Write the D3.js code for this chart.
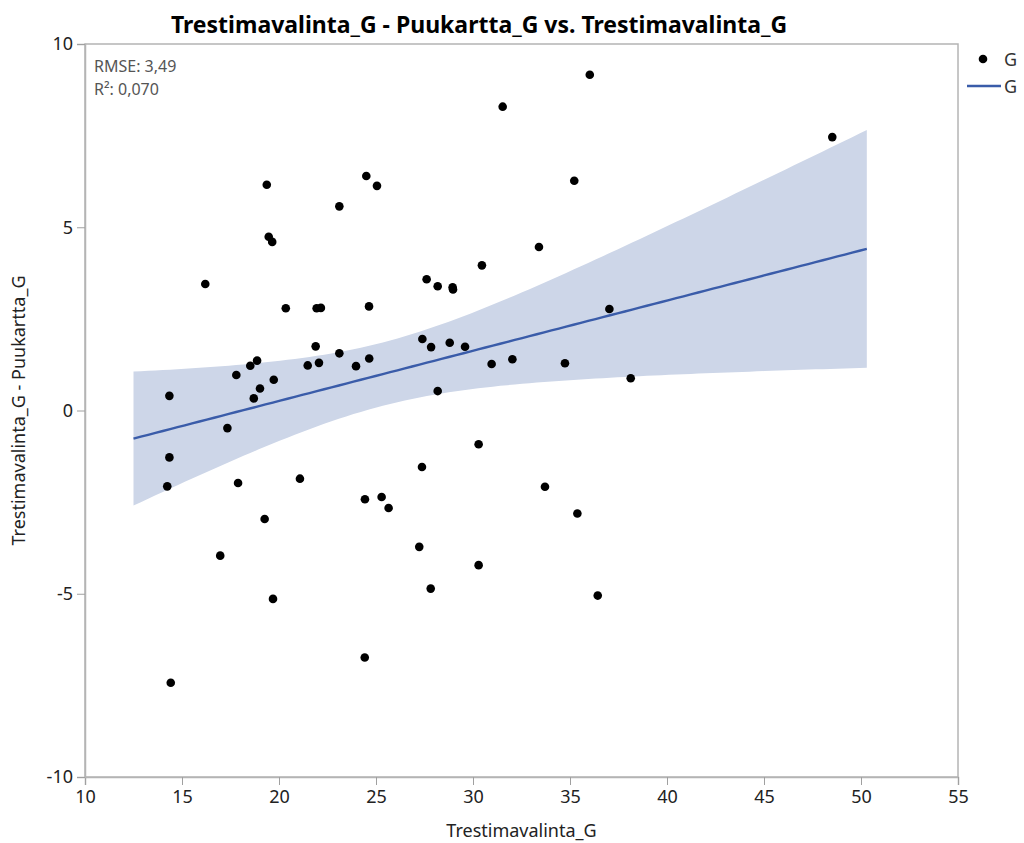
<!DOCTYPE html>
<html>
<head>
<meta charset="utf-8">
<script src="https://cdn.jsdelivr.net/npm/d3@7"></script>
<style>
  html, body { margin: 0; padding: 0; background: #fff; }
  svg { display: block; font-family: "Noto Sans", "Open Sans", sans-serif; }
</style>
</head>
<body>
<svg id="chart" width="1024" height="843"></svg>
<script>
// ---- data ----
const xValues = [14.42, 14.35, 14.35, 14.24, 16.20, 17.34, 16.97, 17.80, 17.89, 18.52,
  18.70, 18.87, 19.02, 19.26, 19.37, 19.47, 19.65, 19.69, 19.73, 20.35,
  21.08, 21.48, 21.89, 21.94, 22.06, 22.16, 23.11, 23.11, 23.97, 24.42,
  24.43, 24.50, 24.65, 24.64, 25.05, 25.29, 25.65, 27.23, 27.39, 27.37,
  27.61, 27.84, 27.82, 28.18, 28.18, 28.80, 28.95, 28.97, 29.59, 30.29,
  30.29, 30.46, 30.96, 31.53, 32.03, 33.40, 33.71, 34.74, 35.22, 35.38,
  36.02, 36.43, 37.03, 38.13, 48.52];
const yValues = [-7.43, 0.40, -1.28, -2.07, 3.45, -0.48, -3.96, 0.97, -1.98, 1.22,
  0.33, 1.36, 0.60, -2.96, 6.16, 4.74, 4.60, -5.14, 0.84, 2.79,
  -1.86, 1.23, 1.75, 2.79, 1.30, 2.80, 5.57, 1.56, 1.21, -6.74,
  -2.42, 6.40, 1.42, 2.84, 6.13, -2.36, -2.66, -3.72, 1.95, -1.54,
  3.58, 1.73, -4.86, 3.39, 0.53, 1.85, 3.36, 3.30, 1.74, -0.92,
  -4.22, 3.96, 1.27, 8.29, 1.40, 4.46, -2.08, 1.29, 6.27, -2.81,
  9.16, -5.05, 2.77, 0.88, 7.46];
const xTicks = [10, 15, 20, 25, 30, 35, 40, 45, 50, 55];
const yTicks = [-10, -5, 0, 5, 10];
const xDomain = [10, 55];
const yDomain = [-10, 10];
const fitRange = [12.5, 50.3];
const tQuantile = 1.998;
const titleText = "Trestimavalinta_G - Puukartta_G vs. Trestimavalinta_G";
const xLabel = "Trestimavalinta_G";
const yLabel = "Trestimavalinta_G - Puukartta_G";
const statLines = ["RMSE: 3,49", "R²: 0,070"];
const legendLabel = "G";

// ---- layout ----
const M = {left: 85, right: 958, top: 44, bottom: 777};
const svg = d3.select("#chart");
const x = d3.scaleLinear().domain(xDomain).range([M.left, M.right]);
const y = d3.scaleLinear().domain(yDomain).range([M.bottom, M.top]);

// ---- regression (derived from data) ----
const n = xValues.length;
const xbar = d3.mean(xValues), ybar = d3.mean(yValues);
let sxx = 0, sxy = 0;
for (let i = 0; i < n; i++) { sxx += (xValues[i]-xbar)**2; sxy += (xValues[i]-xbar)*(yValues[i]-ybar); }
const slope = sxy / sxx, intercept = ybar - slope * xbar;
let sse = 0;
for (let i = 0; i < n; i++) { sse += (yValues[i] - intercept - slope*xValues[i])**2; }
const s = Math.sqrt(sse / (n - 2));
const bandX = d3.range(0, 101).map(i => fitRange[0] + (fitRange[1]-fitRange[0]) * i / 100);
const band = bandX.map(xv => {
  const yh = intercept + slope * xv;
  const h = tQuantile * s * Math.sqrt(1/n + (xv - xbar)**2 / sxx);
  return {x: xv, lo: yh - h, hi: yh + h, y: yh};
});

// ---- band & line ----
svg.append("path").datum(band)
  .attr("d", d3.area().x(d => x(d.x)).y0(d => y(d.lo)).y1(d => y(d.hi)))
  .attr("fill", "#cdd6e8");
svg.append("path").datum(band)
  .attr("d", d3.line().x(d => x(d.x)).y(d => y(d.y)))
  .attr("fill", "none").attr("stroke", "#3a5ca9").attr("stroke-width", 2.4);

// ---- points ----
svg.append("g").selectAll("circle").data(xValues).join("circle")
  .attr("cx", (d) => x(d)).attr("cy", (d, i) => y(yValues[i]))
  .attr("r", 4.3).attr("fill", "#000");

// ---- frame ----
svg.append("rect").attr("x", M.left).attr("y", M.top)
  .attr("width", M.right-M.left).attr("height", M.bottom-M.top)
  .attr("fill", "none").attr("stroke", "#b4b4b4").attr("stroke-width", 1.5);

// ---- axes ----
const fmt = d => String(d);
const xAxis = svg.append("g").attr("transform", `translate(0,${M.bottom})`)
  .call(d3.axisBottom(x).tickValues(xTicks).tickSize(8).tickPadding(5).tickFormat(fmt));
const yAxis = svg.append("g").attr("transform", `translate(${M.left},0)`)
  .call(d3.axisLeft(y).tickValues(yTicks).tickSize(8).tickPadding(4).tickFormat(fmt));
[xAxis, yAxis].forEach(a => {
  a.select(".domain").attr("stroke", "#b4b4b4").attr("stroke-width", 1.5);
  a.selectAll(".tick line").attr("stroke", "#a0a0a0").attr("stroke-width", 1);
  a.selectAll(".tick text").attr("fill", "#222").style("font-size", "18px")
   .style("font-family", "'Noto Sans', sans-serif");
});

// ---- titles ----
svg.append("text").attr("x", 479).attr("y", 33).attr("text-anchor", "middle")
  .style("font-size", "23px").style("font-weight", "bold").attr("fill", "#000")
  .text(titleText);
svg.append("text").attr("x", (M.left+M.right)/2).attr("y", 837).attr("text-anchor", "middle")
  .style("font-size", "18px").attr("fill", "#222").text(xLabel);
svg.append("text").attr("transform", `translate(25,${(M.top+M.bottom)/2}) rotate(-90)`)
  .attr("text-anchor", "middle").style("font-size", "18px").attr("fill", "#222").text(yLabel);

// ---- stats ----
svg.append("g").selectAll("text").data(statLines).join("text")
  .attr("x", 94).attr("y", (d, i) => 72 + i * 23)
  .style("font-size", "16px").attr("fill", "#555").text(d => d);

// ---- legend ----
const lg = svg.append("g");
lg.append("circle").attr("cx", 983).attr("cy", 59).attr("r", 4.3).attr("fill", "#000");
lg.append("text").attr("x", 1004).attr("y", 66).style("font-size", "18px").attr("fill", "#333").text(legendLabel);
lg.append("line").attr("x1", 967).attr("x2", 1001).attr("y1", 86).attr("y2", 86)
  .attr("stroke", "#3a5ca9").attr("stroke-width", 2.4);
lg.append("text").attr("x", 1004).attr("y", 93).style("font-size", "18px").attr("fill", "#333").text(legendLabel);
</script>
</body>
</html>
